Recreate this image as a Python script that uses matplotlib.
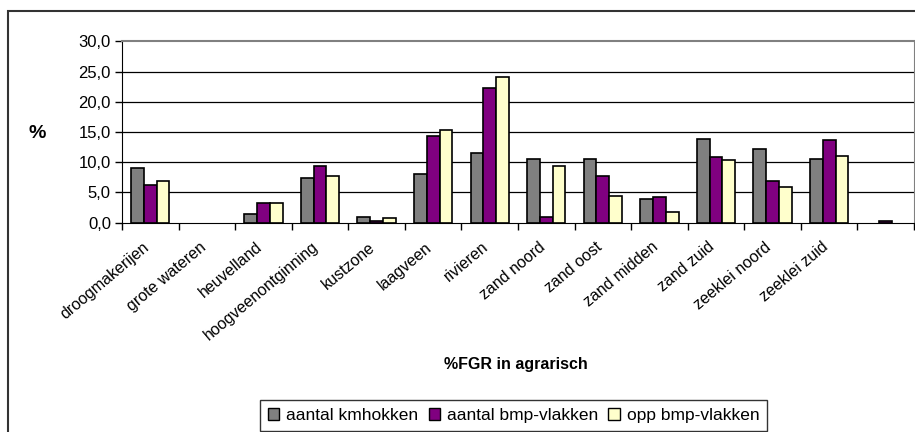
import numpy as np
import matplotlib
matplotlib.use('Agg')
import matplotlib.pyplot as plt
import matplotlib.transforms as mtransforms
from matplotlib.patches import Rectangle, Patch

plt.rcParams['font.family'] = ['Liberation Sans', 'DejaVu Sans']

categories = ['droogmakerijen', 'grote wateren', 'heuvelland', 'hoogveenontginning',
              'kustzone', 'laagveen', 'rivieren', 'zand noord', 'zand oost',
              'zand midden', 'zand zuid', 'zeeklei noord', 'zeeklei zuid', '']
kmhokken = [9.1, 0.0, 1.5, 7.4, 1.0, 8.1, 11.5, 10.5, 10.5, 3.9, 13.9, 12.2, 10.5, 0.0]
bmp_vlakken = [6.2, 0.0, 3.2, 9.3, 0.3, 14.4, 22.2, 1.0, 7.8, 4.2, 10.8, 6.9, 13.7, 0.3]
opp_bmp = [6.9, 0.0, 3.2, 7.8, 0.8, 15.4, 24.1, 9.3, 4.4, 1.7, 10.3, 5.9, 11.0, 0.0]
series_names = ['aantal kmhokken', 'aantal bmp-vlakken', 'opp bmp-vlakken']
colors = ['#808080', '#800080', '#FFFFCC']
yticks = [0, 5, 10, 15, 20, 25, 30]

W, H = 915, 432
fig = plt.figure(figsize=(W / 100, H / 100), dpi=100)
ax = fig.add_axes([122 / W, 1 - 222.7 / H, (914 - 122) / W, (222.7 - 41.3) / H])

x = np.arange(len(categories)) + 0.5
bw = 0.225
for i, (vals, c) in enumerate(zip([kmhokken, bmp_vlakken, opp_bmp], colors)):
    lw = [1.2 if v > 0 else 0 for v in vals]  # empty values show nothing
    ax.bar(x + (i - 1) * bw, vals, bw, color=c, edgecolor='black', linewidth=lw, zorder=3)

ax.set_xlim(0, len(categories))
ax.set_ylim(0, 30)
ax.set_yticks(yticks)
ax.set_yticklabels([f'{v:.1f}'.replace('.', ',') for v in yticks], fontsize=12)
for v in yticks[1:-1]:
    ax.axhline(v, color='black', linewidth=0.9, zorder=1)

# ticks at category boundaries, labels at centres
ax.set_xticks(np.arange(len(categories) + 1))
ax.set_xticklabels([])
ax.set_xticks(x, minor=True)
ax.set_xticklabels(categories, minor=True, rotation=40, ha='right',
                   rotation_mode='anchor', fontsize=11.5)
ax.tick_params(axis='x', which='minor', length=0, pad=12)
ax.tick_params(axis='x', which='major', length=5, width=1, direction='out')
ax.tick_params(axis='y', length=5, width=1, direction='out', pad=3)
shift = mtransforms.ScaledTranslation(-8 / 100, 0, fig.dpi_scale_trans)
for lab in ax.get_xticklabels(minor=True):
    lab.set_transform(lab.get_transform() + shift)

ax.spines['left'].set_color('black')
ax.spines['bottom'].set_color('black')
ax.spines['top'].set_color('#808080')
ax.spines['right'].set_color('#808080')
ax.spines['top'].set_linewidth(1.5)

fig.text(37 / W, 1 - 133 / H, '%', fontsize=14, fontweight='bold', ha='center', va='center')
fig.text(516 / W, 1 - 365 / H, '%FGR in agrarisch', fontsize=11.5, fontweight='bold',
         ha='center', va='center')

# outer chart border
fig.patches.append(Rectangle((8 / W, -0.1), 1.1, (H - 11) / H + 0.1, transform=fig.transFigure,
                             fill=False, edgecolor='#333333', linewidth=1.5))

handles = [Patch(facecolor=c, edgecolor='black', linewidth=1) for c in colors]
leg = fig.legend(handles, series_names, loc='upper left', ncol=3,
                 bbox_to_anchor=(260 / W, 1 - 400 / H), fontsize=12.5, frameon=True,
                 fancybox=False, edgecolor='black', handlelength=0.65, handleheight=0.65,
                 handletextpad=0.4, columnspacing=0.6, borderpad=0.45, borderaxespad=0)
leg.get_frame().set_linewidth(1)

fig.savefig('out.png', dpi=100)
